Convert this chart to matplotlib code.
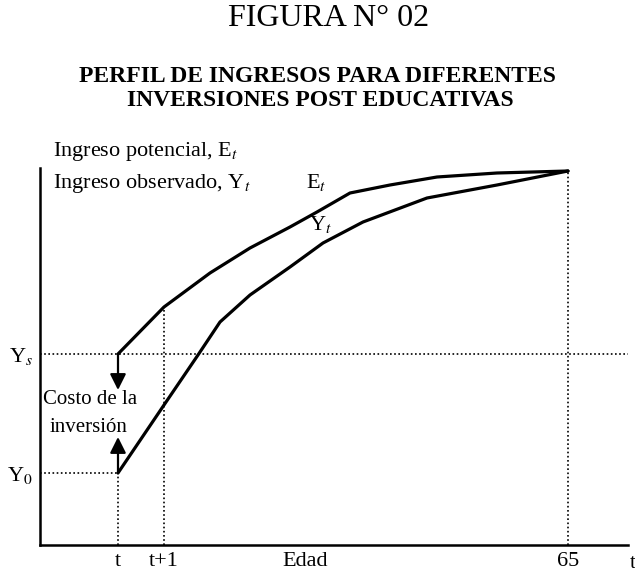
import matplotlib
matplotlib.use('Agg')
import matplotlib.pyplot as plt

plt.rcParams['font.family'] = ['Liberation Serif', 'DejaVu Serif']
plt.rcParams['mathtext.fontset'] = 'stix'

# curve points (age axis units, income units)
e_x = [78, 124, 170, 210, 250, 277, 310, 350, 397, 457, 528]
e_y = [191, 238, 272, 297, 318, 333, 352, 360, 368, 372, 374]
y_x = [78, 124, 158, 180, 210, 250, 283, 323, 387, 457, 528]
y_y = [72, 140, 190, 223, 250, 278, 302, 323, 347, 360, 374]

t0 = 78
t1 = 124
t65 = 528
ys_level = 191
y0_level = 72

tick_pos = [t0, t1, 265, t65]
tick_labels = ['t', 't+1', 'Edad', '65']

fig = plt.figure(figsize=(6.35, 5.74), dpi=100)
ax = fig.add_axes([40 / 635, 29 / 574, 588 / 635, 377 / 574])
ax.set_xlim(0, 588)
ax.set_ylim(0, 377)

ax.spines['top'].set_visible(False)
ax.spines['right'].set_visible(False)
ax.spines['left'].set_linewidth(1.8)
ax.spines['bottom'].set_linewidth(1.8)

# curves
ax.plot(e_x, e_y, color='black', lw=2.3, solid_capstyle='round',
        solid_joinstyle='round')
ax.plot(y_x, y_y, color='black', lw=2.3, solid_capstyle='round',
        solid_joinstyle='round')

# dotted guide lines
dot = dict(color='black', lw=1.2, ls=(0, (1, 1.5)))
ax.plot([0, 588], [ys_level, ys_level], **dot)
ax.plot([0, t0], [y0_level, y0_level], **dot)
ax.plot([t0, t0], [0, y0_level], **dot)
ax.plot([t1, t1], [0, e_y[1]], **dot)
ax.plot([t65, t65], [0, e_y[-1]], **dot)

# arrows: cost of the investment
ax.annotate('', xy=(t0, 155), xytext=(t0, ys_level),
            arrowprops=dict(arrowstyle='-|>', color='black', lw=1.6,
                            mutation_scale=24, shrinkA=0, shrinkB=0))
ax.annotate('', xy=(t0, 108), xytext=(t0, y0_level),
            arrowprops=dict(arrowstyle='-|>', color='black', lw=1.6,
                            mutation_scale=24, shrinkA=0, shrinkB=0))
ax.text(50, 145, 'Costo de la', ha='center', va='center', fontsize=15)
ax.text(49, 117, 'inversión', ha='center', va='center', fontsize=15)

ax.set_xticks(tick_pos)
ax.set_xticklabels(tick_labels, fontsize=16)
ax.set_yticks([ys_level, y0_level])
ax.set_yticklabels([r'Y$_{s}$', r'Y$_{0}$'], fontsize=16)
ax.tick_params(length=0, pad=5)

# curve labels
ax.text(266, 357, r'E$_{t}$', fontsize=16, ha='left', va='baseline')
ax.text(269, 315, r'Y$_{t}$', fontsize=16, ha='left', va='baseline')
ax.text(593, -18, 't', fontsize=16, ha='center', va='center', clip_on=False)

# axis legend text
ax.text(13, 389, r'Ingreso potencial, E$_{t}$', fontsize=16, ha='left',
        va='baseline', clip_on=False)
ax.text(13, 357, r'Ingreso observado, Y$_{t}$', fontsize=16, ha='left',
        va='baseline', clip_on=False)

fig.text(329 / 635, 1 - 19 / 574, 'FIGURA N° 02', fontsize=23,
         ha='center', va='center')
fig.text(317 / 635, 1 - 76 / 574, 'PERFIL DE INGRESOS PARA DIFERENTES',
         fontsize=17, fontweight='bold', ha='center', va='center')
fig.text(320 / 635, 1 - 101 / 574, 'INVERSIONES POST EDUCATIVAS',
         fontsize=17, fontweight='bold', ha='center', va='center')

fig.savefig('out.png', dpi=100)
